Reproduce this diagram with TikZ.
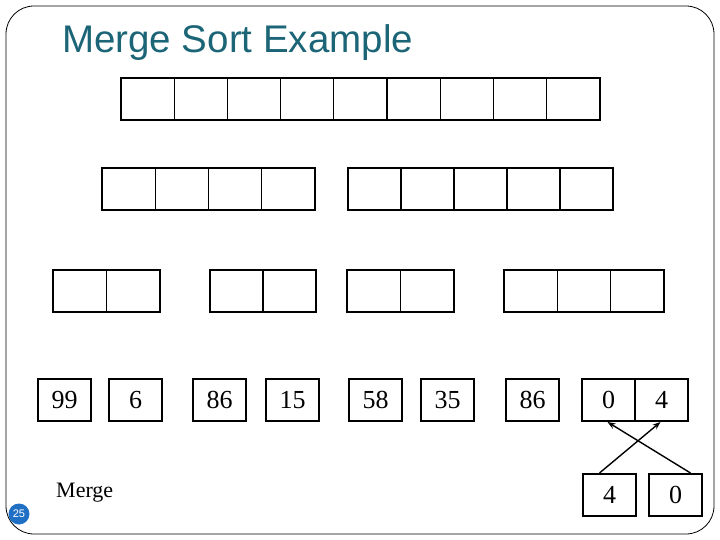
\documentclass[tikz,border=0pt]{standalone}
\usepackage{fontspec}
\setmainfont{Liberation Serif}
\newfontfamily\arialf{Liberation Sans}
\usetikzlibrary{arrows.meta}
\definecolor{titleteal}{HTML}{1B6577}
\definecolor{pgblue}{HTML}{1F6FC5}
\tikzset{
  cellrow/.style={draw=black, line width=2pt},
  cell/.style={draw=black, line width=2pt, minimum width=53pt, minimum height=42pt, inner sep=0pt, anchor=north west, font=\fontsize{26}{26}\selectfont},
  arr/.style={-{Stealth[length=8pt,width=6pt]}, line width=1.4pt},
}
\begin{document}
\begin{tikzpicture}[x=1pt,y=-1pt]
\useasboundingbox (0,0) rectangle (720,540);
\draw[line width=0.8pt, rounded corners=28pt] (6,6) rectangle (714,534);
\node[font=\arialf\fontsize{38.5}{38.5}\selectfont, text=titleteal, anchor=west, inner sep=0pt] (title) at (62,43) {Merge Sort Example};
% row 1
\draw[cellrow] (121,78) rectangle (600,120);
\foreach \i in {1,...,8} \draw[line width=1.3pt] ({121+\i*53.2},78) -- ({121+\i*53.2},120);
% row 2
\draw[cellrow] (102,168) rectangle (315,210);
\foreach \i in {1,...,3} \draw[line width=1.3pt] ({102+\i*53.25},168) -- ({102+\i*53.25},210);
\draw[cellrow] (348,168) rectangle (613,210);
\foreach \i in {1,...,4} \draw[line width=1.3pt] ({348+\i*53},168) -- ({348+\i*53},210);
% row 3
\draw[cellrow] (53,270) rectangle (160,312);
\draw[line width=1.3pt] (106.5,270) -- (106.5,312);
\draw[cellrow] (210,270) rectangle (316,312);
\draw[line width=1.3pt] (263,270) -- (263,312);
\draw[cellrow] (347,270) rectangle (454,312);
\draw[line width=1.3pt] (400.5,270) -- (400.5,312);
\draw[cellrow] (504,270) rectangle (664,312);
\foreach \i in {1,2} \draw[line width=1.3pt] ({504+\i*53.3},270) -- ({504+\i*53.3},312);
% row 4
\node[cell] (a) at (37,378) {99};
\node[cell] (b) at (108,378) {6};
\node[cell] (c) at (192,378) {86};
\node[cell] (d) at (265,378) {15};
\node[cell] (e) at (348,378) {58};
\node[cell] (f) at (420,378) {35};
\node[cell] (g) at (505,378) {86};
\node[cell] (h) at (581,378) {0};
\node[cell] (i) at (634,378) {4};
% row 5
\node[cell] (j) at (582,473) {4};
\node[cell] (k) at (648,473) {0};
\draw[arr] ([xshift=-10pt]j.north) -- ([xshift=-1pt]i.south);
\draw[arr] ([xshift=15pt]k.north) -- ([xshift=-1pt]h.south);
\node[font=\fontsize{22}{22}\selectfont, anchor=west, inner sep=0pt] (merge) at (56,493) {Merge};
\node[circle, fill=pgblue, minimum size=21pt, inner sep=0pt, text=white, font=\arialf\fontsize{11}{11}\selectfont] (pg) at (19,514) {25};
\end{tikzpicture}
\end{document}
